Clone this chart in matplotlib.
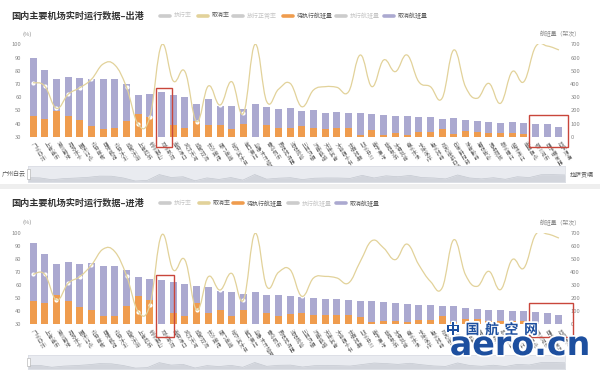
import numpy as np
import matplotlib.pyplot as plt
from matplotlib.path import Path
from matplotlib.patches import PathPatch, Rectangle
from matplotlib.lines import Line2D
import matplotlib.patheffects as pe

plt.rcParams['font.family'] = ['Noto Sans CJK SC', 'DejaVu Sans']

# 机场（按航班量排序）
airports = ['广州白云', '上海浦东', '深圳宝安', '昆明长水', '重庆江北', '北京首都', '西安咸阳',
            '北京大兴', '成都天府', '上海虹桥', '杭州萧山', '郑州新郑', '南京禄口', '武汉天河',
            '成都双流', '长沙黄花', '厦门高崎', '哈尔滨太平', '海口美兰', '乌鲁木齐地窝堡',
            '青岛胶东', '贵阳龙洞堡', '沈阳桃仙', '三亚凤凰', '济南遥墙', '天津滨海', '大连周水子',
            '长春龙嘉', '兰州中川', '南宁吴圩', '合肥新桥', '太原武宿', '福州长乐', '宁波栎社',
            '温州龙湾', '呼和浩特白塔', '石家庄正定', '珠海金湾', '揭阳潮汕', '无锡硕放',
            '泉州晋江', '桂林两江', '南昌昌北', '银川河东', '西宁曹家堡', '拉萨贡嘎']

# 出港
out_pending = [159, 131, 195, 157, 126, 83, 56, 63, 119, 169, 152, 0, 88, 63, 119, 88, 86, 61,
               96, 0, 86, 63, 63, 81, 63, 56, 63, 63, 13, 51, 13, 30, 13, 38, 38, 56, 20, 45,
               38, 30, 25, 25, 20, 0, 0, 0]
out_cancel = [440, 374, 240, 298, 321, 354, 379, 372, 280, 147, 169, 336, 228, 240, 129, 198,
              146, 171, 111, 245, 136, 144, 152, 114, 139, 126, 121, 114, 166, 121, 154, 127,
              144, 114, 109, 78, 121, 81, 83, 79, 81, 84, 86, 96, 96, 71]
out_rate = [70.9, 68.4, 51.5, 62.1, 67.1, 73.5, 85.1, 84.3, 67.4, 39.3, 45.2, 99.5, 72.2, 79.3,
            41.4, 68.4, 54.0, 71.7, 47.7, 100.0, 56.5, 65.9, 70.4, 52.7, 65.4, 67.9, 67.4, 64.1,
            91.9, 67.9, 88.1, 79.3, 91.9, 71.7, 67.9, 59.1, 95.7, 67.9, 59.1, 70.4, 55.3, 79.3,
            71.7, 98.2, 98.7, 95.7]

# 进港
in_pending = [181, 165, 224, 178, 135, 107, 64, 64, 140, 216, 186, 0, 89, 64, 165, 84, 107, 66,
              109, 0, 89, 64, 79, 87, 69, 69, 69, 69, 53, 15, 23, 28, 15, 36, 36, 61, 15, 43,
              43, 28, 28, 23, 23, 0, 0, 0]
in_cancel = [443, 370, 237, 295, 323, 364, 384, 381, 275, 148, 160, 336, 232, 244, 125, 199,
             148, 178, 123, 244, 135, 160, 135, 119, 132, 127, 127, 114, 128, 161, 145, 132,
             140, 114, 112, 76, 125, 82, 77, 79, 79, 81, 81, 94, 87, 70]
in_rate = [68.2, 68.2, 48.6, 61.3, 66.4, 75.3, 87.5, 85.5, 67.2, 39.7, 44.8, 98.2, 71.5, 79.1,
           40.9, 66.4, 56.2, 68.9, 48.6, 99.5, 58.8, 69.7, 71.7, 51.4, 65.4, 66.6, 65.4, 61.6,
           78.0, 93.9, 88.3, 79.4, 91.3, 75.6, 62.8, 57.7, 94.6, 67.9, 59.0, 70.5, 56.5, 79.4,
           73.0, 98.5, 99.0, 95.9]

ORANGE = '#ef9c4e'
LAV = '#aba9d0'
YEL = '#e2d29a'
GREY = '#cccccc'

W, H = 600, 371
fig = plt.figure(figsize=(6, 3.71), dpi=100)
fig.patch.set_facecolor('white')


def smooth_path(xs, ys, k=0.2):
    # кривая Безье через точки (как smooth у echarts)
    n = len(xs)
    verts = [(xs[0], ys[0])]
    codes = [Path.MOVETO]
    for i in range(n - 1):
        a, b = max(i - 1, 0), min(i + 2, n - 1)
        c1 = (xs[i] + k * (xs[i + 1] - xs[a]), ys[i] + k * (ys[i + 1] - ys[a]))
        c2 = (xs[i + 1] - k * (xs[b] - xs[i]), ys[i + 1] - k * (ys[b] - ys[i]))
        verts += [c1, c2, (xs[i + 1], ys[i + 1])]
        codes += [Path.CURVE4] * 3
    return Path(verts, codes)


def legend_row(items, y):
    for label, color, x0 in items:
        fig.add_artist(Line2D([x0 / W, (x0 + 10) / W], [1 - y / H] * 2, color=color,
                              lw=2.6, solid_capstyle='round'))
        tc = '#555555' if color != GREY else '#c4c4c4'
        fig.text((x0 + 14) / W, 1 - y / H, label, fontsize=4.3, color=tc, va='center')


def panel(y_title, y_unit, y0, y1, s0, s1, title, legend, pending, cancel, rate, boxes, ends):
    n = len(airports)
    x = np.arange(n)
    l, r = 27.2, 564.8
    fig.text(11 / W, 1 - y_title / H, title, fontsize=6.6, weight='bold', color='#333333',
             va='center')
    legend_row(legend, y_title)
    fig.text(27 / W, 1 - y_unit / H, '(%)', fontsize=4.2, color='#888888', ha='center',
             va='center')
    fig.text(581 / W, 1 - y_unit / H, '航班量（架次）', fontsize=4.2, color='#888888',
             ha='right', va='center')

    ax = fig.add_axes([l / W, 1 - y1 / H, (r - l) / W, (y1 - y0) / H])
    ax.bar(x, pending, width=0.6, color=ORANGE, zorder=2)
    ax.bar(x, cancel, width=0.6, bottom=pending, color=LAV, zorder=2)
    ax.set_xlim(-0.5, n - 0.5)
    ax.set_ylim(0, 700)
    ax.set_xticks(x)
    ax.set_xticklabels(airports, rotation=-57, ha='left', va='center',
                       rotation_mode='anchor', fontsize=3.9, color='#666666')
    ax.tick_params(axis='x', length=0, pad=4)
    for s in ax.spines.values():
        s.set_visible(False)

    ax2 = ax.twinx()
    ax.yaxis.tick_right()
    ax.set_yticks(range(0, 701, 100))
    ax.tick_params(axis='y', length=0, labelsize=4.2, labelcolor='#888888', pad=4)
    ax2.set_ylim(30, 100)
    ax2.yaxis.tick_left()
    ax2.set_yticks(range(30, 101, 10))
    ax2.tick_params(axis='y', length=0, labelsize=4.2, labelcolor='#888888', pad=4)
    for s in ax2.spines.values():
        s.set_visible(False)
    ax2.plot(x, rate, 'o', ms=2.0, mfc='white', mec='white', zorder=2)
    ax2.add_patch(PathPatch(smooth_path(x, rate), fill=False, ec=YEL, lw=0.9, zorder=3))

    for bx0, bx1, by0, by1 in boxes:
        ax2.add_patch(Rectangle((bx0, by0), bx1 - bx0, by1 - by0, fill=False, ec='#c9463b',
                                lw=1.0, clip_on=False, zorder=6))

    # dataZoom slider
    sl = fig.add_axes([28 / W, 1 - s1 / H, 537 / W, (s1 - s0) / H])
    sl.set_facecolor('#e9ebf0')
    sl.fill_between(x, np.array(rate) - 30, color='#d2d5dc', lw=0)
    sl.plot(x, np.array(rate) - 30, color='#c3c7cf', lw=0.5)
    sl.set_xlim(0, n - 1)
    sl.set_ylim(0, 150)
    sl.set_xticks([])
    sl.set_yticks([])
    for s in sl.spines.values():
        s.set_color('#d8dbe2')
        s.set_linewidth(0.5)
    fig.add_artist(Rectangle((27 / W, 1 - (s1 - 3) / H), 2.5 / W, (s1 - s0 - 6) / H,
                             fc='white', ec='#aaaaaa', lw=0.4))
    if ends:
        ym = 1 - (s0 + s1) / 2 / H
        fig.text(2 / W, ym, ends[0], fontsize=4.3, color='#555555', va='center')
        fig.text(570 / W, ym, ends[1], fontsize=4.3, color='#555555', va='center')


panel(15.7, 34, 44.3, 136.7, 166, 182, '国内主要机场实时运行数据–出港',
      [('执行率', GREY, 160), ('取消率', YEL, 198), ('放行正常率', GREY, 233),
       ('待执行航班量', ORANGE, 283), ('执行航班量', GREY, 336), ('取消航班量', LAV, 384)],
      out_pending, out_cancel, out_rate,
      [(10.49, 11.86, 22.2, 66.9), (42.43, 45.76, 22.2, 46.4)], ('广州白云', '拉萨贡嘎'))

# полоса между панелями
fig.add_artist(Rectangle((0, 1 - 189 / H), 1, 5 / H, fc='#eeeeee', ec='none'))

panel(203.3, 222.7, 232.7, 324.3, 355, 369, '国内主要机场实时运行数据–进港',
      [('执行率', GREY, 160), ('取消率', YEL, 199), ('待执行航班量', ORANGE, 233),
       ('执行航班量', GREY, 288), ('取消航班量', LAV, 336)],
      in_pending, in_cancel, in_rate,
      [(10.49, 12.06, 20.5, 67.7), (42.43, 46.2, 20.5, 46.3)], None)

# логотип
glow = [pe.withStroke(linewidth=2.5, foreground='white')]
for i, ch in enumerate('中国航空网'):
    fig.text((453 + i * 19.5) / W, 1 - 330 / H, ch, fontsize=10, weight='bold',
             color='#1d4f9f', ha='center', va='center', path_effects=glow, zorder=10)
fig.text(520 / W, 1 - 355 / H, 'aero.cn', fontsize=24, weight='bold', color='#1d4f9f',
         family='DejaVu Sans', ha='center', va='baseline', path_effects=glow, zorder=10)

fig.savefig('out.png', dpi=100)
